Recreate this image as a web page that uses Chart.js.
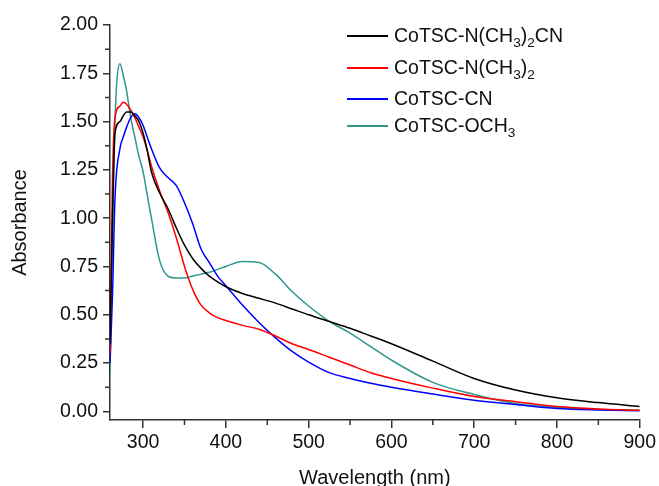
<!DOCTYPE html>
<html>
<head>
<meta charset="utf-8">
<script src="https://cdn.jsdelivr.net/npm/chart.js@4"></script>
<style>
html,body{margin:0;padding:0;background:#fff;}
#wrap{position:relative;width:659px;height:486px;overflow:hidden;background:#fff;}
canvas{display:block;}
.leg{position:absolute;left:347px;height:0;font-family:"Liberation Sans",Arial,sans-serif;font-size:19.5px;color:#111;white-space:nowrap;}
.leg .ln{position:absolute;left:0;top:-1px;width:41px;height:2px;}
.leg .tx{position:absolute;left:47px;top:-12px;line-height:22px;}
.leg sub{font-size:70%;vertical-align:baseline;position:relative;top:0.38em;}
</style>
</head>
<body>
<div id="wrap">
<canvas id="c" width="659" height="486"></canvas>
</div>
<script>
// Wavelength (nm) sample points shared by all series
const wavelength = [260,263,266,272,276,280,285,290,295,300,305,310,320,330,340,350,360,370,380,390,400,420,440,460,480,500,525,550,575,600,650,700,750,800,850,900];

// Absorbance values
const coN_CH3_2_CN = [0.35,1.0,1.44,1.50,1.53,1.55,1.55,1.53,1.50,1.44,1.35,1.24,1.13,1.05,0.95,0.86,0.79,0.74,0.70,0.67,0.645,0.61,0.585,0.56,0.53,0.50,0.465,0.43,0.39,0.35,0.26,0.17,0.11,0.07,0.045,0.025];
const coN_CH3_2 = [0.3,1.2,1.52,1.58,1.60,1.59,1.56,1.52,1.47,1.42,1.35,1.27,1.14,1.03,0.90,0.75,0.63,0.55,0.51,0.485,0.47,0.445,0.425,0.39,0.35,0.32,0.28,0.24,0.20,0.17,0.12,0.077,0.05,0.025,0.012,0.005];
const coCN = [0.25,0.6,1.1,1.36,1.42,1.47,1.52,1.54,1.52,1.48,1.42,1.36,1.26,1.21,1.17,1.08,0.97,0.84,0.77,0.70,0.65,0.55,0.46,0.38,0.31,0.255,0.20,0.17,0.145,0.125,0.09,0.057,0.035,0.015,0.007,0.003];
const coOCH3 = [0.2,0.9,1.5,1.80,1.74,1.66,1.52,1.42,1.32,1.24,1.12,1.00,0.78,0.70,0.69,0.69,0.70,0.71,0.72,0.735,0.75,0.775,0.77,0.71,0.62,0.545,0.465,0.405,0.335,0.265,0.15,0.087,0.04,0.02,0.01,0.005];

const seriesNames = ['CoTSC-N(CH3)2CN','CoTSC-N(CH3)2','CoTSC-CN','CoTSC-OCH3'];
const seriesLabelsHTML = ['CoTSC-N(CH<sub>3</sub>)<sub>2</sub>CN','CoTSC-N(CH<sub>3</sub>)<sub>2</sub>','CoTSC-CN','CoTSC-OCH<sub>3</sub>'];
const seriesValues = [coN_CH3_2_CN, coN_CH3_2, coCN, coOCH3];
const seriesColors = ['#000000','#ff0000','#0000ff','#2f9690'];

const xTickValues = [300,400,500,600,700,800,900];
const xMinorTicks = [350,450,550,650,750,850];
const yTickValues = [0,0.25,0.5,0.75,1.0,1.25,1.5,1.75,2.0];
const yMinorTicks = [0.125,0.375,0.625,0.875,1.125,1.375,1.625,1.875];

const FONT = '"Liberation Sans", Arial, sans-serif';
const axisColor = '#333333';
const textColor = '#111111';

const minorTicksPlugin = {
  id: 'minorTicks',
  afterDraw(chart) {
    const {ctx, scales: {x, y}} = chart;
    ctx.save();
    ctx.strokeStyle = axisColor;
    ctx.lineWidth = 1.5;
    ctx.beginPath();
    xMinorTicks.forEach(v => {
      const px = x.getPixelForValue(v);
      ctx.moveTo(px, x.top);
      ctx.lineTo(px, x.top + 5);
    });
    yMinorTicks.forEach(v => {
      const py = y.getPixelForValue(v);
      ctx.moveTo(y.right, py);
      ctx.lineTo(y.right - 5, py);
    });
    ctx.stroke();
    ctx.restore();
  }
};

new Chart(document.getElementById('c').getContext('2d'), {
  type: 'line',
  data: {
    datasets: seriesNames.map((name, i) => ({
      label: name,
      data: wavelength.map((w, j) => ({x: w, y: seriesValues[i][j]})),
      borderColor: seriesColors[i],
      backgroundColor: seriesColors[i],
      borderWidth: 1.5,
      pointRadius: 0,
      cubicInterpolationMode: 'monotone',
      fill: false
    }))
  },
  options: {
    responsive: false,
    animation: false,
    layout: {padding: {top: 25, right: 18, left: 0, bottom: 0}},
    plugins: {legend: {display: false}, tooltip: {enabled: false}},
    scales: {
      x: {
        type: 'linear', min: 260, max: 900,
        afterBuildTicks: s => { s.ticks = xTickValues.map(v => ({value: v})); },
        afterFit: s => { s.height = 66; },
        ticks: {font: {family: FONT, size: 19.5}, color: textColor, padding: 3, maxRotation: 0, autoSkip: false, callback: v => String(v)},
        grid: {drawOnChartArea: false, drawTicks: true, tickLength: 8, color: axisColor, lineWidth: 1.5},
        border: {display: true, color: axisColor, width: 1.5},
        title: {display: true, text: 'Wavelength (nm)', font: {family: FONT, size: 20}, color: textColor, padding: {top: 0, bottom: -4}}
      },
      y: {
        type: 'linear', min: -0.045, max: 2.0,
        afterBuildTicks: s => { s.ticks = yTickValues.map(v => ({value: v})); },
        afterFit: s => { s.width = 110; },
        ticks: {font: {family: FONT, size: 19.5}, color: textColor, padding: 5, autoSkip: false, callback: v => Number(v).toFixed(2)},
        grid: {drawOnChartArea: false, drawTicks: true, tickLength: 7, color: axisColor, lineWidth: 1.5},
        border: {display: true, color: axisColor, width: 1.5},
        title: {display: true, text: 'Absorbance', font: {family: FONT, size: 20}, color: textColor, padding: {top: 8, bottom: 0}}
      }
    }
  },
  plugins: [minorTicksPlugin]
});

// Legend with subscripts (HTML text)
const legendY = [36, 68, 99, 126];
const wrap = document.getElementById('wrap');
seriesLabelsHTML.forEach((html, i) => {
  const d = document.createElement('div');
  d.className = 'leg';
  d.style.top = legendY[i] + 'px';
  d.innerHTML = '<div class="ln" style="background:' + seriesColors[i] + '"></div><div class="tx">' + html + '</div>';
  wrap.appendChild(d);
});
</script>
</body>
</html>
